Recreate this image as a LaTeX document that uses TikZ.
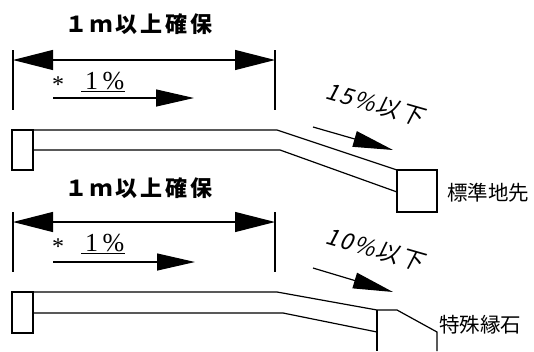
\documentclass[tikz,border=0pt]{standalone}
\usepackage{fontspec}
\setmainfont{Liberation Serif}
\newfontfamily\jp{Noto Sans CJK JP}
\newfontfamily\jpt[LetterSpace=14]{Noto Sans CJK JP}
\newfontfamily\jps[FakeSlant=0.2,LetterSpace=8]{Noto Sans CJK JP}
\usetikzlibrary{arrows.meta}
\tikzset{
  ln/.style={line width=1.2pt, line join=miter},
  tick/.style={line width=1.6pt},
  dimarrow/.style={line width=1.2pt, {Triangle[length=40pt,width=20pt]}-{Triangle[length=40pt,width=20pt]}},
  flowarrow/.style={line width=1.2pt, -{Triangle[length=38pt,width=17pt]}},
  slopearrow/.style={line width=1.2pt, -{Triangle[length=40pt,width=16pt]}},
  title/.style={font=\jpt\bfseries\fontsize{22}{22}\selectfont, inner sep=0pt},
  pct/.style={anchor=base west, inner sep=0pt},
  slopelbl/.style={font=\jps\fontsize{23}{23}\selectfont, rotate=-16, inner sep=0pt},
  lbl/.style={font=\jp\fontsize{20.5}{20.5}\selectfont, inner sep=0pt},
}
\newcommand{\pcttext}{\raisebox{-3pt}{\fontsize{24}{24}\selectfont *}\hspace{17pt}\fontsize{26}{26}\selectfont\underline{\hspace{4pt}1\,\%\hspace{1pt}}}
\begin{document}
\begin{tikzpicture}[x=1pt,y=-1pt]
\useasboundingbox (0,0) rectangle (534,351);
% ================= top =================
\node[title] (t1) at (139,24) {１ｍ以上確保};
\coordinate (l1a) at (13,50); \coordinate (l1b) at (13,110);
\coordinate (r1a) at (275,50); \coordinate (r1b) at (275,110);
\draw[tick] (l1a) -- (l1b);
\draw[tick] (r1a) -- (r1b);
\coordinate (d1l) at (13,60); \coordinate (d1r) at (275,60);
\draw[dimarrow] (d1l) -- (d1r);
\node[pct] (p1) at (52,89) {\pcttext};
\coordinate (f1s) at (53,98); \coordinate (f1e) at (194,98);
\draw[flowarrow] (f1s) -- (f1e);
% slab
\draw[ln] (12,130) rectangle (33,170);
\draw[ln] (33,130) -- (277,130) -- (397,170);
\draw[ln] (33,150) -- (280,150) -- (397,192);
\draw[ln] (397,170) rectangle (437,212);
\node[slopelbl] (s1) at (375,104) {15\%以下};
\coordinate (a1s) at (313,127); \coordinate (a1e) at (393,150);
\draw[slopearrow] (a1s) -- (a1e);
\node[lbl] (n1) at (488,193) {標準地先};
% ================= bottom =================
\node[title] (t2) at (139,188) {１ｍ以上確保};
\coordinate (l2a) at (13,212); \coordinate (l2b) at (13,272);
\coordinate (r2a) at (275,212); \coordinate (r2b) at (275,272);
\draw[tick] (l2a) -- (l2b);
\draw[tick] (r2a) -- (r2b);
\coordinate (d2l) at (13,222); \coordinate (d2r) at (275,222);
\draw[dimarrow] (d2l) -- (d2r);
\node[pct] (p2) at (52,251) {\pcttext};
\coordinate (f2s) at (53,262); \coordinate (f2e) at (195,262);
\draw[flowarrow] (f2s) -- (f2e);
% slab
\draw[ln] (12,292) rectangle (33,333);
\draw[ln] (33,292) -- (277,292) -- (377,310) -- (397,310) -- (437,332) -- (437,351);
\draw[ln] (33,313) -- (283,313) -- (377,332);
\draw[ln] (377,310) -- (377,351);
\node[slopelbl] (s2) at (375,249) {10\%以下};
\coordinate (a2s) at (313,268); \coordinate (a2e) at (393,292);
\draw[slopearrow] (a2s) -- (a2e);
\node[lbl] (n2) at (480,325) {特殊縁石};
\end{tikzpicture}
\end{document}
